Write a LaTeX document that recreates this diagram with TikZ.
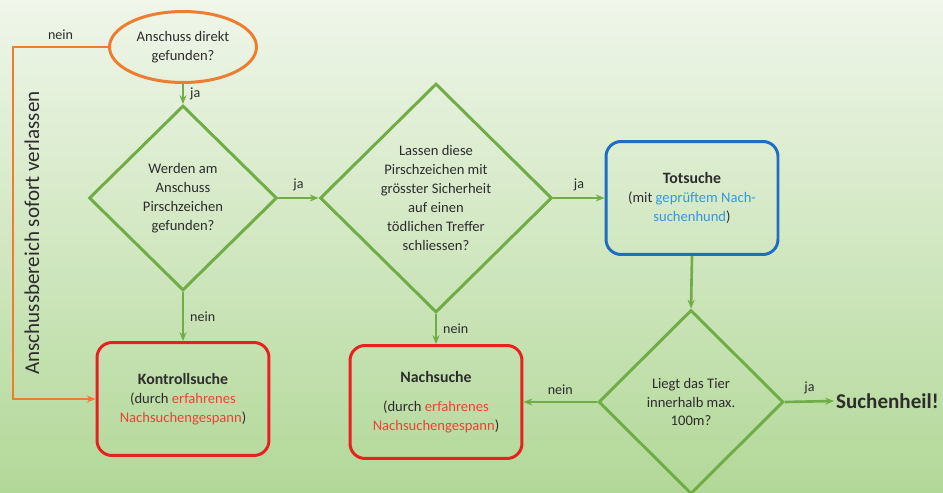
\documentclass[tikz,border=0pt]{standalone}
\usepackage{fontspec}
\setmainfont{Carlito}
\usetikzlibrary{shapes.geometric,arrows.meta}
\pgfdeclarelayer{bg}
\pgfsetlayers{bg,main}
\definecolor{flowgreen}{RGB}{112,173,71}
\definecolor{floworange}{RGB}{237,125,49}
\definecolor{boxblue}{RGB}{31,110,196}
\definecolor{boxred}{RGB}{232,32,32}
\definecolor{hintred}{RGB}{240,64,56}
\definecolor{hintblue}{RGB}{52,152,222}
\definecolor{textgray}{RGB}{45,45,45}
\definecolor{bgtop}{RGB}{240,246,234}
\definecolor{bgbottom}{RGB}{178,216,152}

\begin{document}
\begin{tikzpicture}[x=0.02cm, y=-0.02cm,
    txt/.style={font=\fontsize{8.3}{10.8}\selectfont, text=textgray, align=center},
    answer/.style={font=\fontsize{8}{9.6}\selectfont, text=textgray},
    decision/.style={draw=flowgreen, line width=1.7pt, shape=diamond, inner sep=0pt, txt},
    searchbox/.style={rounded corners=0.3cm, line width=1.7pt, minimum width=3.44cm, minimum height=2.26cm, txt},
    flow/.style={draw=flowgreen, line width=1.5pt, -{Stealth[length=5pt,width=4pt]}},
    escape/.style={draw=floworange, line width=1.5pt, -{Stealth[length=5pt,width=4pt]}}]
    \useasboundingbox (0,0) rectangle (943,493);
    \begin{pgfonlayer}{bg}
        \shade[top color=bgtop, bottom color=bgbottom] (0,0) rectangle (943,493);
    \end{pgfonlayer}

    \node (q0) [draw=floworange, line width=1.7pt, shape=ellipse, minimum width=2.94cm, minimum height=1.42cm, inner sep=0pt, txt] at (183,47) {Anschuss direkt\\gefunden?};
    \node (q1) [decision, minimum width=3.76cm, minimum height=3.7cm] at (183,198) {Werden am\\Anschuss\\Pirschzeichen\\gefunden?};
    \node (q2) [decision, minimum width=4.64cm, minimum height=4.58cm] at (436,198) {Lassen diese\\Pirschzeichen mit\\grösster Sicherheit\\auf einen\\tödlichen Treffer\\schliessen?};
    \node (q3) [decision, minimum width=3.7cm, minimum height=3.68cm] at (691,402) {Liegt das Tier\\innerhalb max.\\100m?};
    \node (tot) [searchbox, draw=boxblue] at (692,198) {{\fontsize{9}{11}\selectfont\bfseries Totsuche}\\(mit \textcolor{hintblue}{geprüftem Nach-}\\\textcolor{hintblue}{suchenhund})};
    \node (kontr) [searchbox, draw=boxred] at (183,399) {{\fontsize{9}{11}\selectfont\bfseries Kontrollsuche}\\(durch \textcolor{hintred}{erfahrenes}\\\textcolor{hintred}{Nachsuchengespann})};
    \node (nach) [searchbox, draw=boxred] at (436,402) {{\fontsize{9}{11}\selectfont\bfseries Nachsuche}\\[6pt](durch \textcolor{hintred}{erfahrenes}\\\textcolor{hintred}{Nachsuchengespann})};
    \node (heil) [anchor=west, inner sep=1pt, text=textgray, font=\fontsize{12}{14}\selectfont\bfseries] at (834,401) {Suchenheil!};
    \node (side) [rotate=90, text=textgray, font=\fontsize{12}{14}\selectfont] at (32,233) {Anschussbereich sofort verlassen};
    \coordinate (turn) at (13,47);

    \draw[flow] (q0.south) -- node[answer, right] {ja} (q1.north);
    \draw[flow] (q1.east) -- node[answer, above] {ja} (q2.west);
    \draw[flow] (q1.south) -- node[answer, right] {nein} (kontr.north);
    \draw[flow] (q2.south) -- node[answer, right] {nein} (nach.north);
    \draw[flow] (q2.east) -- node[answer, above] {ja} (tot.west);
    \draw[flow] (tot.south) -- (q3.north);
    \draw[flow] (q3.west) -- node[answer, above] {nein} (nach.east);
    \draw[flow] (q3.east) -- node[answer, above] {ja} (heil.west);
    \draw[escape] (q0.west) -- node[answer, above] {nein} (turn) |- (kontr.west);
\end{tikzpicture}
\end{document}
